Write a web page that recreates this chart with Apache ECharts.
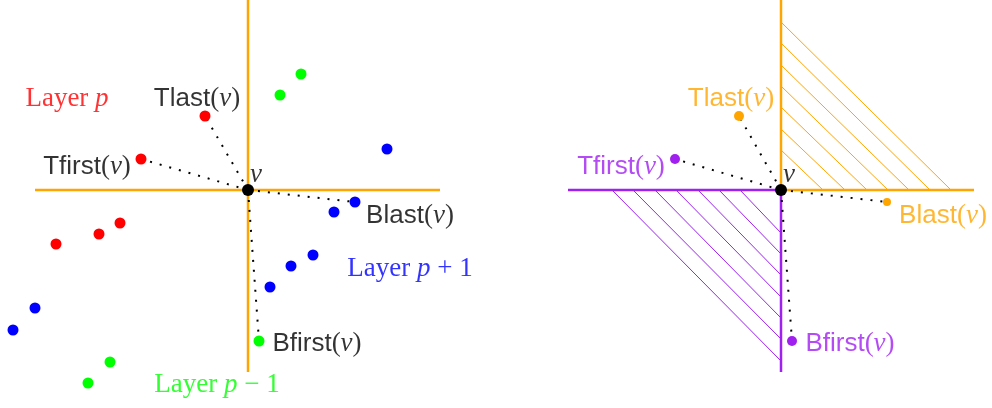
<!DOCTYPE html>
<html>
<head>
<meta charset="utf-8">
<script src="https://cdn.jsdelivr.net/npm/echarts@6/dist/echarts.min.js"></script>
<style>html,body{margin:0;padding:0;background:#fff;}#c{width:992px;height:408px;}</style>
</head>
<body>
<div id="c"></div>
<script>
// ---- Data (diagram coordinates) ----
const orangeSegments = [[248,0,248,372],[35,190,440,190],[781,0,781,190],[781,190,974,190]];
const purpleSegments = [[568,190,781,190],[781,190,781,372]];
const orangeHatch = [[781,22,951,190],[781,43,930,190],[781,65,909,190],[781,86,888,190],[781,107,867,190],[781,129,845,190],[781,150,823,190]];
const purpleHatch = [[612,190,781,361],[633,190,781,339],[655,190,781,318],[676,190,781,297],[698,190,781,275],[719,190,781,254],[740,190,781,233]];
const dottedLinks = [
  [248,190,205,116],[248,190,141,159],[248,190,355,202],[248,190,259,341],
  [781,190,739,116],[781,190,675,159],[781,190,887,202],[781,190,792,341]
];
const redPoints = [[205,116],[141,159],[56,244],[99,234],[120,223]];
const greenPoints = [[301,74],[280,95],[259,341],[110,362],[88,383]];
const bluePoints = [[387,149],[355,202],[334,212],[313,255],[291,266],[270,287],[35,308],[13,330]];
const centerPoints = [[248,190],[781,190]];
const orangePoints = [[739,116]];
const orangeSmallPoints = [[887,202]];
const purplePoints = [[675,159],[792,341]];
const labelTexts = [
  '{rm|Layer }{it|p}', '{sf|Tlast}{rm|(}{it|v}{rm|)}', '{sf|Tfirst}{rm|(}{it|v}{rm|)}', '{it|v}',
  '{sf|Blast}{rm|(}{it|v}{rm|)}', '{rm|Layer }{it|p}{rm| + 1}', '{sf|Bfirst}{rm|(}{it|v}{rm|)}', '{rm|Layer }{it|p}{rm| \u2212 1}',
  '{sf|Tlast}{rm|(}{it|v}{rm|)}', '{sf|Tfirst}{rm|(}{it|v}{rm|)}', '{it|v}', '{sf|Blast}{rm|(}{it|v}{rm|)}', '{sf|Bfirst}{rm|(}{it|v}{rm|)}'
];
const labelAnchors = [
  [67,99],[197,99],[87,167],[256,175],
  [410,216],[410,269],[317,344],[217,385],
  [731,99],[621,167],[789,175],[943,216],[850,344]
];
const labelColors = ['#FF0000','#000000','#000000','#000000','#000000','#0000FF','#000000','#00FF00','#FFA500','#A020F0','#000000','#FFA500','#A020F0'];

// ---- Styles ----
const ORANGE = '#FFA500', PURPLE = '#A020F0';
function richFor(color) {
  return {
    sf: {fontFamily: 'Liberation Sans', fontSize: 26, color: color},
    rm: {fontFamily: 'Liberation Serif', fontSize: 27, color: color},
    it: {fontFamily: 'Liberation Serif', fontStyle: 'italic', fontSize: 27, color: color}
  };
}
function segSeries(arr, color, width, dash, z) {
  return {
    type: 'custom', coordinateSystem: 'cartesian2d', z: z, silent: true,
    encode: {x: [0, 2], y: [1, 3]},
    data: arr,
    renderItem: function (params, api) {
      const p1 = api.coord([api.value(0), api.value(1)]);
      const p2 = api.coord([api.value(2), api.value(3)]);
      return {type: 'line', shape: {x1: p1[0], y1: p1[1], x2: p2[0], y2: p2[1]},
        style: {stroke: color, lineWidth: width, lineDash: dash || null, fill: null}};
    }
  };
}
function dots(arr, color, size, z) {
  return {type: 'scatter', z: z || 4, symbolSize: size, silent: true,
    itemStyle: {color: color, opacity: 1}, data: arr};
}
const chart = echarts.init(document.getElementById('c'), null, {renderer: 'canvas'});
chart.setOption({
  animation: false,
  backgroundColor: '#fff',
  grid: {left: 0, right: 0, top: 0, bottom: 0},
  xAxis: {type: 'value', min: 0, max: 992, show: false},
  yAxis: {type: 'value', min: 0, max: 408, inverse: true, show: false},
  series: [
    segSeries(orangeHatch, ORANGE, 1, null, 1),
    segSeries(purpleHatch, PURPLE, 1, null, 1),
    segSeries(orangeSegments, ORANGE, 2.5, null, 2),
    segSeries(purpleSegments, PURPLE, 2.5, null, 2),
    segSeries(dottedLinks, '#000000', 2, [2, 8], 3),
    dots(redPoints, '#FF0000', 11),
    dots(greenPoints, '#00FF00', 11),
    dots(bluePoints, '#0000FF', 11),
    dots(orangePoints, ORANGE, 10),
    dots(orangeSmallPoints, ORANGE, 8),
    dots(purplePoints, PURPLE, 10),
    dots(centerPoints, '#000000', 12, 5),
    {type: 'scatter', z: 6, symbolSize: 1, silent: true, itemStyle: {color: 'transparent'},
      data: labelAnchors.map((p, i) => ({value: p, label: {show: true, position: 'inside', align: 'center', verticalAlign: 'middle', formatter: labelTexts[i], rich: richFor(labelColors[i])}}))}
  ]
});
</script>
</body>
</html>
